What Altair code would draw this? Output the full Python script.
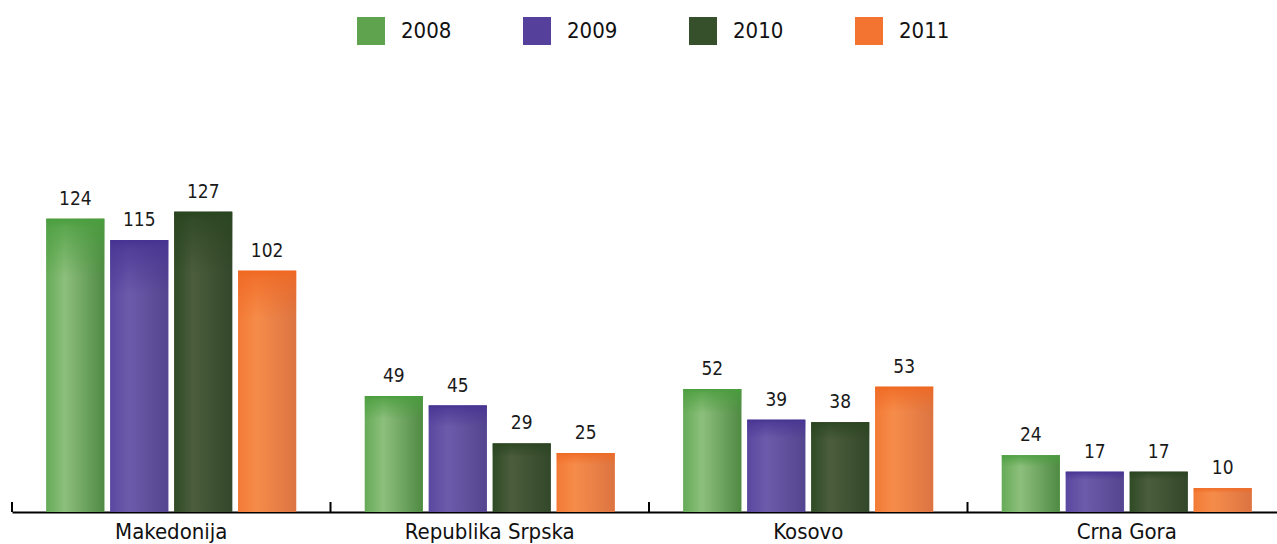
import altair as alt
import pandas as pd

# Number of cases per region and year
regions = ["Makedonija", "Republika Srpska", "Kosovo", "Crna Gora"]
years = ["2008", "2009", "2010", "2011"]
values_2008 = [124, 49, 52, 24]
values_2009 = [115, 45, 39, 17]
values_2010 = [127, 29, 38, 17]
values_2011 = [102, 25, 53, 10]

series = {"2008": values_2008, "2009": values_2009, "2010": values_2010, "2011": values_2011}

# Flat colour per year (legend)
flat_colors = ["#5fa34f", "#55419c", "#36502b", "#f27430"]
# Horizontal shading per year: left edge, highlight, right edge, top band
shades = {
    "2008": ("#66ab58", "#8dbf7c", "#4f8a43", "#4a9e3e"),
    "2009": ("#5a48a0", "#6c5baa", "#54458f", "#463392"),
    "2010": ("#304b26", "#4b5d3c", "#33472a", "#2a4420"),
    "2011": ("#f37a36", "#f68c4a", "#dc7442", "#ef6822"),
}

rows = []
for y in years:
    for r, v in zip(regions, series[y]):
        rows.append({"region": r, "year": y, "value": v})
df = pd.DataFrame(rows)
ticks_df = pd.DataFrame({"region": regions})

FONT = "DejaVu Sans Condensed, sans-serif"

x_enc = alt.X(
    "region:N",
    sort=regions,
    title=None,
    scale=alt.Scale(range=[0, 1274], paddingInner=0, paddingOuter=0),
    axis=alt.Axis(
        ticks=False,
        labelAngle=0,
        labelFont=FONT,
        labelFontSize=22,
        labelColor="#111111",
        labelBaseline="alphabetic",
        labelPadding=26,
        domainColor="#000000",
        domainWidth=2,
        grid=False,
    ),
)
xoff_enc = alt.XOffset("year:N", sort=years, scale=alt.Scale(paddingInner=0.094, paddingOuter=0.537))
y_enc = alt.Y("value:Q", scale=alt.Scale(domain=[0, 216.5], nice=False, zero=True), axis=None)

base = alt.Chart(df).encode(x=x_enc, xOffset=xoff_enc, y=y_enc)

flat_bars = base.mark_bar().encode(
    color=alt.Color(
        "year:N",
        sort=years,
        scale=alt.Scale(domain=years, range=flat_colors),
        legend=alt.Legend(
            title=None,
            orient="none",
            direction="horizontal",
            legendX=345,
            legendY=17,
            padding=0,
            symbolType="square",
            symbolSize=784,
            symbolStrokeWidth=0,
            symbolOpacity=1,
            labelFont=FONT,
            labelFontSize=22,
            labelColor="#111111",
            labelOffset=16,
            columnPadding=71,
        ),
    )
)


def hex_rgba(h, a):
    h = h.lstrip("#")
    r, g, b = int(h[0:2], 16), int(h[2:4], 16), int(h[4:6], 16)
    return f"rgba({r},{g},{b},{a})"


layers = [flat_bars]
for y in years:
    left, light, right, top = shades[y]
    side = alt.Gradient(
        gradient="linear",
        stops=[
            alt.GradientStop(offset=0, color=left),
            alt.GradientStop(offset=0.32, color=light),
            alt.GradientStop(offset=1, color=right),
        ],
        x1=0, y1=0, x2=1, y2=0,
    )
    cap = alt.Gradient(
        gradient="linear",
        stops=[
            alt.GradientStop(offset=0, color=hex_rgba(top, 1)),
            alt.GradientStop(offset=0.03, color=hex_rgba(top, 0.7)),
            alt.GradientStop(offset=0.2, color=hex_rgba(top, 0)),
            alt.GradientStop(offset=1, color=hex_rgba(top, 0)),
        ],
        x1=0, y1=0, x2=0, y2=1,
    )
    one_year = base.transform_filter(alt.datum.year == y)
    layers.append(one_year.mark_bar(color=side))
    layers.append(one_year.mark_bar(color=cap))

labels = base.mark_text(
    baseline="alphabetic", dy=-14, font=FONT, fontSize=19, color="#1a1a1a"
).encode(text="value:Q")

tick_rules = alt.Chart(ticks_df).mark_rule(color="#000000", strokeWidth=2).encode(
    x=alt.X("region:N", sort=regions, bandPosition=0),
    y=alt.value(502),
    y2=alt.value(512),
)

chart = (
    alt.layer(*layers, labels, tick_rules)
    .properties(
        width=1265,
        height=512,
        autosize=alt.AutoSizeParams(type="none"),
        padding={"left": 12, "right": 0, "top": 0, "bottom": 32},
    )
    .configure_view(stroke=None)
)

chart.save("out.html", embed_options={"renderer": "svg", "actions": False})
